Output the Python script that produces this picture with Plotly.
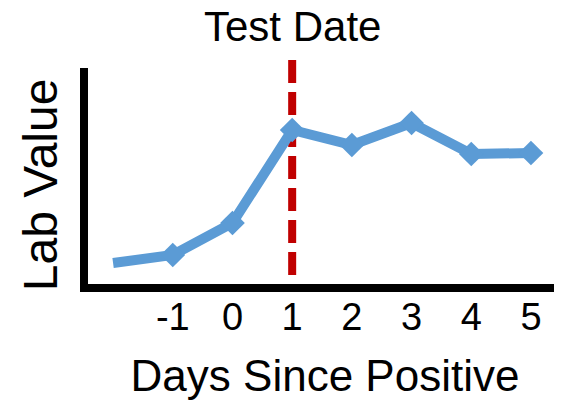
import plotly.graph_objects as go

# Data
days = [-2, -1, 0, 1, 2, 3, 4, 5]
lab_values = [21, 29, 61, 154, 139, 161, 130, 131]
show_marker = [False, True, True, True, True, True, True, True]
tick_vals = [-1, 0, 1, 2, 3, 4, 5]
tick_text = ["-1", "0", "1", "2", "3", "4", "5"]
test_day = 1

FONT = "Arial, Liberation Sans, sans-serif"
BLUE = "#5B9BD5"
RED = "#C00000"

fig = go.Figure()
fig.add_trace(go.Scatter(
    x=days, y=lab_values, mode="lines+markers",
    line=dict(color=BLUE, width=10),
    marker=dict(symbol="diamond", color=BLUE, opacity=1,
                line=dict(width=0),
                size=[19 if s else 0 for s in show_marker]),
    showlegend=False, hoverinfo="skip",
))

fig.add_shape(type="line", xref="x", yref="paper",
              x0=test_day, x1=test_day, y0=1.037, y1=0,
              line=dict(color=RED, width=8, dash="23px,9px"), layer="below")

fig.add_annotation(x=test_day, xref="x", yref="paper", y=1.19,
                   text="Test Date", showarrow=False,
                   font=dict(family=FONT, size=42, color="black"),
                   xanchor="center", yanchor="middle")

fig.add_annotation(xref="paper", yref="paper", x=-0.1, y=0.46,
                   text="Lab Value", textangle=-90, showarrow=False,
                   font=dict(family=FONT, size=48, color="black"),
                   xanchor="center", yanchor="middle")

fig.update_layout(
    width=554, height=397,
    margin=dict(l=80, r=0, t=60, b=121),
    paper_bgcolor="white", plot_bgcolor="white",
    font=dict(family=FONT, color="black"),
    xaxis=dict(range=[-2.42, 5.52], tickvals=tick_vals, ticktext=tick_text,
               showgrid=False, zeroline=False, showline=True,
               linecolor="black", linewidth=8, ticks="", automargin=False,
               ticklabelstandoff=-8,
               tickfont=dict(size=38, family=FONT, color="black"),
               title=dict(text="Days Since Positive",
                          font=dict(size=44, family=FONT, color="black"),
                          standoff=27)),
    yaxis=dict(range=[0, 216], showticklabels=False, showgrid=False,
               zeroline=False, showline=True, linecolor="black",
               linewidth=8, ticks="", automargin=False),
)

fig.write_html("out.html")
